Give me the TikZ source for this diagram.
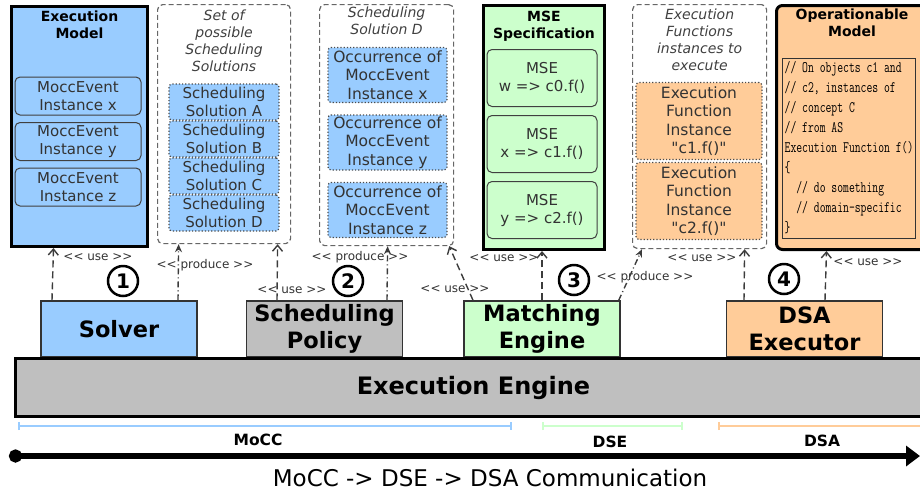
\documentclass[tikz,border=0pt]{standalone}
\usepackage{fontspec}
\setmainfont{DejaVu Sans}[Ligatures=TeXOff]
\usepackage{graphicx}
\usetikzlibrary{positioning,arrows.meta}
\definecolor{MoccBlue}{RGB}{153,204,255}
\definecolor{DseGreen}{RGB}{204,255,204}
\definecolor{DsaOrange}{RGB}{255,204,153}
\definecolor{EngineGray}{RGB}{191,191,191}
\definecolor{LinkGray}{RGB}{60,60,60}

\begin{document}
\begin{tikzpicture}[x=1pt,y=-1pt,
      >={Stealth[length=8pt,width=7pt]},
      modelbox/.style={draw=black,line width=3pt,anchor=north west,inner sep=0pt},
      setbox/.style={draw=black!60,dash pattern=on 5pt off 3pt,line width=1.2pt,rounded corners=5pt,
                     anchor=north west,inner sep=0pt},
      ttl/.style={inner sep=0pt,align=center,font=\bfseries\fontsize{14}{17}\selectfont},
      ittl/.style={inner sep=0pt,align=center,text=black!75,font=\itshape\fontsize{14}{17}\selectfont},
      instbox/.style={draw=black!75,line width=1pt,rounded corners=5pt,inner sep=0pt,align=center,
                      text=black!80,font=\fontsize{15}{18}\selectfont},
      occbox/.style={draw=black!70,dotted,line width=1.2pt,rounded corners=3pt,inner sep=0pt,align=center,
                     text=black!80,font=\fontsize{15.5}{18.5}\selectfont},
      compbox/.style={draw=black!80,line width=1.5pt,minimum width=156,minimum height=56,inner sep=0pt,
                      align=center,font=\bfseries\fontsize{22.5}{27}\selectfont},
      stepnum/.style={circle,draw,line width=2.5pt,minimum size=30pt,inner sep=0pt,
                      font=\bfseries\fontsize{20}{20}\selectfont},
      linklabel/.style={inner sep=0pt,text=black!80,font=\fontsize{12}{12}\selectfont},
      uselink/.style={draw=LinkGray,line width=1.4pt,dash pattern=on 7pt off 4pt,
                      -{Straight Barb[length=6pt,width=10pt]}},
      producelink/.style={draw=LinkGray,line width=1.4pt,dash pattern=on 6pt off 3pt on 1pt off 3pt,->},
      spanline/.style={line width=2pt,{Bar[width=8pt]}-{Bar[width=8pt]}},
      spanlabel/.style={inner sep=0pt,font=\bfseries\fontsize{15.5}{15.5}\selectfont}]
    \useasboundingbox (0,0) rectangle (920,496);

    \node[modelbox,fill=MoccBlue,minimum width=136,minimum height=240] (em) at (10,5) {};
    \node[ttl,below=6pt of em.north] (emt) {Execution\\Model};
    \foreach \v [count=\i] in {x,y,z}
      \node[instbox,fill=MoccBlue,minimum width=126,minimum height=38] (ev\v) at (78,50.5+45.5*\i) {MoccEvent\\Instance \v};

    \node[setbox,minimum width=133,minimum height=239] (sets) at (157,4) {};
    \node[ittl,below=6pt of sets.north] (setst) {Set of\\possible\\Scheduling\\Solutions};
    \foreach \s [count=\i] in {A,B,C,D}
      \node[occbox,fill=MoccBlue,minimum width=110,minimum height=36,font=\fontsize{15}{18}\selectfont] (sol\s) at (224,65+37*\i) {Scheduling\\Solution \s};

    \node[setbox,minimum width=134,minimum height=241] (sold) at (319,4) {};
    \node[ittl,below=3pt of sold.north] (soldt) {Scheduling\\Solution D};
    \foreach \v [count=\i] in {x,y,z}
      \node[occbox,fill=MoccBlue,minimum width=119,minimum height=55] (oc\v) at (387.5,7.5+67.5*\i) {Occurrence of\\MoccEvent\\Instance \v};

    \node[modelbox,fill=DseGreen,minimum width=121,minimum height=244] (mse) at (482,4) {};
    \node[ttl,below=7pt of mse.north] (mset) {MSE\\Specification};
    \foreach \v/\c [count=\i] in {w/0,x/1,y/2}
      \node[instbox,fill=DseGreen,minimum width=110,minimum height=57] (mse\v) at (542,12+66*\i) {MSE\\\v{} => c\c.f()};

    \node[setbox,minimum width=134,minimum height=244] (efs) at (632,4) {};
    \node[ittl,below=5pt of efs.north] (efst) {Execution\\Functions\\instances to\\execute};
    \foreach \c [count=\i] in {1,2}
      \node[occbox,fill=DsaOrange,minimum width=126,minimum height=77] (ef\c) at (699,41+80*\i) {Execution\\Function\\Instance\\"c\c.f()"};

    \node[modelbox,fill=DsaOrange,rounded corners=6pt,minimum width=165,minimum height=244] (opm) at (775,4) {};
    \node[ttl,below=5pt of opm.north,xshift=-7pt] (opmt) {Operationable\\Model};
    \node[draw=black!80,line width=1pt,anchor=north west,minimum width=133,minimum height=180,inner sep=0pt] (code) at (782,58)
      {\scalebox{0.71}[1]{\fontsize{16}{20}\selectfont\ttfamily\begin{tabular}{@{}l@{}}
        // On objects c1 and\\ // c2, instances of\\ // concept C\\ // from AS\\
        Execution Function f()\\ \{\\ ~~// do something\\ ~~// domain-specific\\ \}
      \end{tabular}}};

    \node[compbox,fill=MoccBlue] (solver) at (119,329) {Solver};
    \node[compbox,fill=EngineGray] (policy) at (324.5,329) {Scheduling\\Policy};
    \node[compbox,fill=DseGreen] (matching) at (542,329) {Matching\\Engine};
    \node[compbox,fill=DsaOrange] (dsaexec) at (804.5,329) {DSA\\Executor};
    \node[draw=black,line width=3pt,fill=EngineGray,anchor=north west,minimum width=916,minimum height=58,inner sep=0pt,
          font=\bfseries\fontsize{24}{24}\selectfont] (engine) at (14,357) {Execution Engine};

    \foreach \n/\x/\y in {1/123/281,2/348/281,3/574/280,4/784/279}
      \node[stepnum] (step\n) at (\x,\y) {\n};

    \node[linklabel] (l1) at (98,257) {<< use >>};
    \node[linklabel] (l2) at (205,265) {<< produce >>};
    \node[linklabel] (l3) at (292,290) {<< use >>};
    \node[linklabel] (l4) at (360,257) {<< produce >>};
    \node[linklabel] (l5) at (455,289) {<< use >>};
    \node[linklabel] (l6) at (504,258) {<< use >>};
    \node[linklabel] (l7) at (645,277) {<< produce >>};
    \node[linklabel] (l8) at (702,258) {<< use >>};
    \node[linklabel] (l9) at (868,262) {<< use >>};

    \draw[uselink] ([xshift=-67pt]solver.north) -- ([xshift=-26pt]em.south);
    \draw[producelink] ([xshift=59pt]solver.north) -- ([xshift=-45.5pt]sets.south);
    \draw[uselink] ([xshift=-47.5pt]policy.north) -- ([xshift=53.5pt]sets.south);
    \draw[producelink] ([xshift=62.5pt]policy.north) -- ([xshift=1pt]sold.south);
    \draw[uselink] ([xshift=-69pt]matching.north) -- ([xshift=-5pt]sold.south east);
    \draw[uselink] (matching.north) -- (matching.north |- mse.south);
    \draw[producelink] ([xshift=-2pt]matching.north east) -- ([xshift=10pt]efs.south west);
    \draw[uselink] ([xshift=-60.5pt]dsaexec.north) -- ([xshift=45pt]efs.south);
    \draw[uselink] ([xshift=20.5pt]dsaexec.north) -- ([xshift=-32.5pt]opm.south);

    \draw[spanline,draw=MoccBlue] (18,426) -- (512,426);
    \draw[spanline,draw=DseGreen] (542,426) -- (683,426);
    \draw[spanline,draw=DsaOrange] (718,426) -- (935,426);
    \node[spanlabel] (mocc) at (258,440) {MoCC};
    \node[spanlabel] (dse) at (610,442) {DSE};
    \node[spanlabel] (dsa) at (822,441) {DSA};

    \coordinate (tstart) at (9,456);
    \coordinate (tend) at (920,456);
    \draw[line width=6pt,{Circle[length=13pt]}-{Triangle[length=14pt,width=20pt]}] (tstart) -- (tend);
    \node[inner sep=0pt,font=\fontsize{23}{23}\selectfont] (comm) at (490,478) {MoCC -> DSE -> DSA Communication};
  \end{tikzpicture}
\end{document}
